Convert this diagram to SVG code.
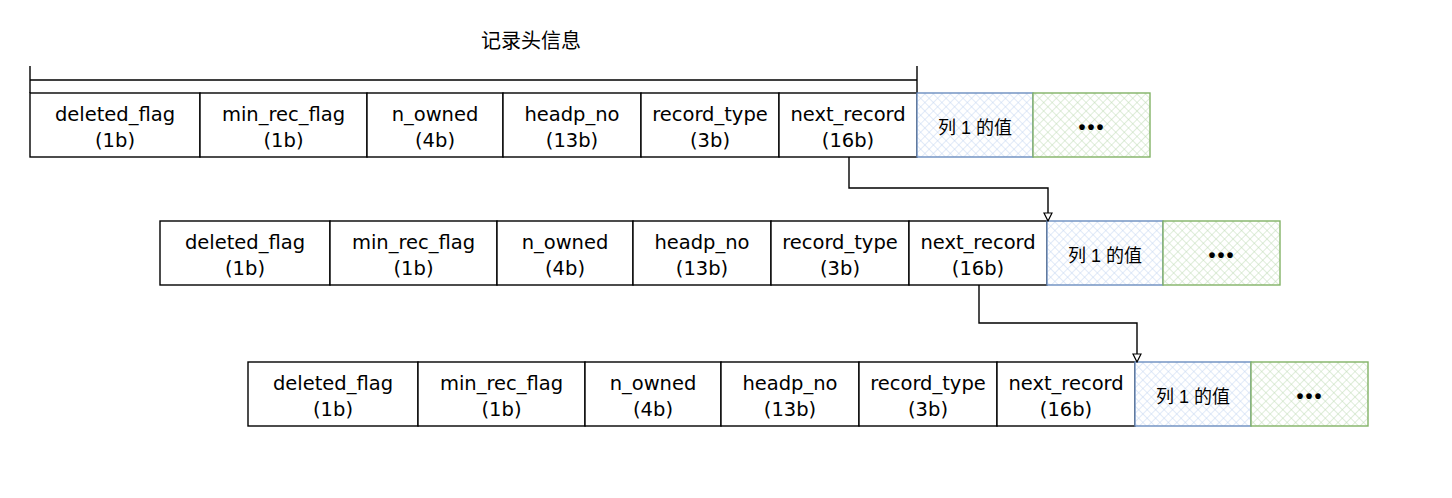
<svg xmlns="http://www.w3.org/2000/svg" width="1452" height="498" viewBox="0 0 1452 498">
<defs>
<pattern id="hb" width="6" height="6" patternUnits="userSpaceOnUse" patternTransform="rotate(45)">
<rect width="6" height="6" fill="#ffffff"/>
<path d="M0,0 V6 M0,0 H6" stroke="#c3d6f1" stroke-width="1"/>
</pattern>
<pattern id="hg" width="6" height="6" patternUnits="userSpaceOnUse" patternTransform="rotate(45)">
<rect width="6" height="6" fill="#ffffff"/>
<path d="M0,0 V6 M0,0 H6" stroke="#c0dcb5" stroke-width="1"/>
</pattern>
<marker id="arr" viewBox="0 0 10 10" refX="9" refY="5" markerWidth="10" markerHeight="10" markerUnits="userSpaceOnUse" orient="auto">
<path d="M1,1 L9,5 L1,9 Z" fill="#ffffff" stroke="#000" stroke-width="1.2"/>
</marker>
</defs>
<style>
.c{fill:#ffffff;stroke:#000;stroke-width:1.4}
.b{fill:url(#hb);stroke:#6c8ebf;stroke-width:1.4}
.g{fill:url(#hg);stroke:#82b366;stroke-width:1.4}
.t{font-family:"DejaVu Sans","Noto Sans CJK SC",sans-serif;font-size:19.5px;fill:#000;text-anchor:middle}
.z{font-family:"Liberation Sans","Noto Sans CJK SC",sans-serif;font-size:18px;fill:#000;text-anchor:middle}
.d{font-family:"Liberation Sans",sans-serif;font-size:20px;font-weight:bold;fill:#000;text-anchor:middle;letter-spacing:2px}
.l{fill:none;stroke:#000;stroke-width:1.4}
</style>
<rect width="1452" height="498" fill="#ffffff"/>
<g id="header">
<text class="z" x="531" y="48" style="font-size:20px">记录头信息</text>
<path class="l" d="M30,66 V93 M30,80 H917 M917,66 V93"/>
</g>
<g id="row1">
<g id="r1_deleted_flag"><rect class="c" x="30" y="93" width="170" height="64"/><text class="t" x="115" y="121">deleted_flag</text><text class="t" x="115" y="147">(1b)</text></g>
<g id="r1_min_rec_flag"><rect class="c" x="200" y="93" width="167" height="64"/><text class="t" x="283.5" y="121">min_rec_flag</text><text class="t" x="283.5" y="147">(1b)</text></g>
<g id="r1_n_owned"><rect class="c" x="367" y="93" width="136" height="64"/><text class="t" x="435" y="121">n_owned</text><text class="t" x="435" y="147">(4b)</text></g>
<g id="r1_headp_no"><rect class="c" x="503" y="93" width="138" height="64"/><text class="t" x="572" y="121">headp_no</text><text class="t" x="572" y="147">(13b)</text></g>
<g id="r1_record_type"><rect class="c" x="641" y="93" width="138" height="64"/><text class="t" x="710" y="121">record_type</text><text class="t" x="710" y="147">(3b)</text></g>
<g id="r1_next_record"><rect class="c" x="779" y="93" width="138" height="64"/><text class="t" x="848" y="121">next_record</text><text class="t" x="848" y="147">(16b)</text></g>
<g id="r1_col1"><rect class="b" x="917" y="93" width="116" height="64"/><text class="z" x="975" y="134">列 1 的值</text></g>
<g id="r1_more"><rect class="g" x="1033" y="93" width="117" height="64"/><text class="d" x="1092" y="134">•••</text></g>
</g>
<g id="row2" transform="translate(130,128)">
<g id="r2_deleted_flag"><rect class="c" x="30" y="93" width="170" height="64"/><text class="t" x="115" y="121">deleted_flag</text><text class="t" x="115" y="147">(1b)</text></g>
<g id="r2_min_rec_flag"><rect class="c" x="200" y="93" width="167" height="64"/><text class="t" x="283.5" y="121">min_rec_flag</text><text class="t" x="283.5" y="147">(1b)</text></g>
<g id="r2_n_owned"><rect class="c" x="367" y="93" width="136" height="64"/><text class="t" x="435" y="121">n_owned</text><text class="t" x="435" y="147">(4b)</text></g>
<g id="r2_headp_no"><rect class="c" x="503" y="93" width="138" height="64"/><text class="t" x="572" y="121">headp_no</text><text class="t" x="572" y="147">(13b)</text></g>
<g id="r2_record_type"><rect class="c" x="641" y="93" width="138" height="64"/><text class="t" x="710" y="121">record_type</text><text class="t" x="710" y="147">(3b)</text></g>
<g id="r2_next_record"><rect class="c" x="779" y="93" width="138" height="64"/><text class="t" x="848" y="121">next_record</text><text class="t" x="848" y="147">(16b)</text></g>
<g id="r2_col1"><rect class="b" x="917" y="93" width="116" height="64"/><text class="z" x="975" y="134">列 1 的值</text></g>
<g id="r2_more"><rect class="g" x="1033" y="93" width="117" height="64"/><text class="d" x="1092" y="134">•••</text></g>
</g>
<g id="row3" transform="translate(218,269)">
<g id="r3_deleted_flag"><rect class="c" x="30" y="93" width="170" height="64"/><text class="t" x="115" y="121">deleted_flag</text><text class="t" x="115" y="147">(1b)</text></g>
<g id="r3_min_rec_flag"><rect class="c" x="200" y="93" width="167" height="64"/><text class="t" x="283.5" y="121">min_rec_flag</text><text class="t" x="283.5" y="147">(1b)</text></g>
<g id="r3_n_owned"><rect class="c" x="367" y="93" width="136" height="64"/><text class="t" x="435" y="121">n_owned</text><text class="t" x="435" y="147">(4b)</text></g>
<g id="r3_headp_no"><rect class="c" x="503" y="93" width="138" height="64"/><text class="t" x="572" y="121">headp_no</text><text class="t" x="572" y="147">(13b)</text></g>
<g id="r3_record_type"><rect class="c" x="641" y="93" width="138" height="64"/><text class="t" x="710" y="121">record_type</text><text class="t" x="710" y="147">(3b)</text></g>
<g id="r3_next_record"><rect class="c" x="779" y="93" width="138" height="64"/><text class="t" x="848" y="121">next_record</text><text class="t" x="848" y="147">(16b)</text></g>
<g id="r3_col1"><rect class="b" x="917" y="93" width="116" height="64"/><text class="z" x="975" y="134">列 1 的值</text></g>
<g id="r3_more"><rect class="g" x="1033" y="93" width="117" height="64"/><text class="d" x="1092" y="134">•••</text></g>
</g>
<g id="connectors">
<path class="l" d="M849,157 V188 H1048 V221" marker-end="url(#arr)"/>
<path class="l" d="M979,285 V323 H1137 V362" marker-end="url(#arr)"/>
</g>
</svg>
